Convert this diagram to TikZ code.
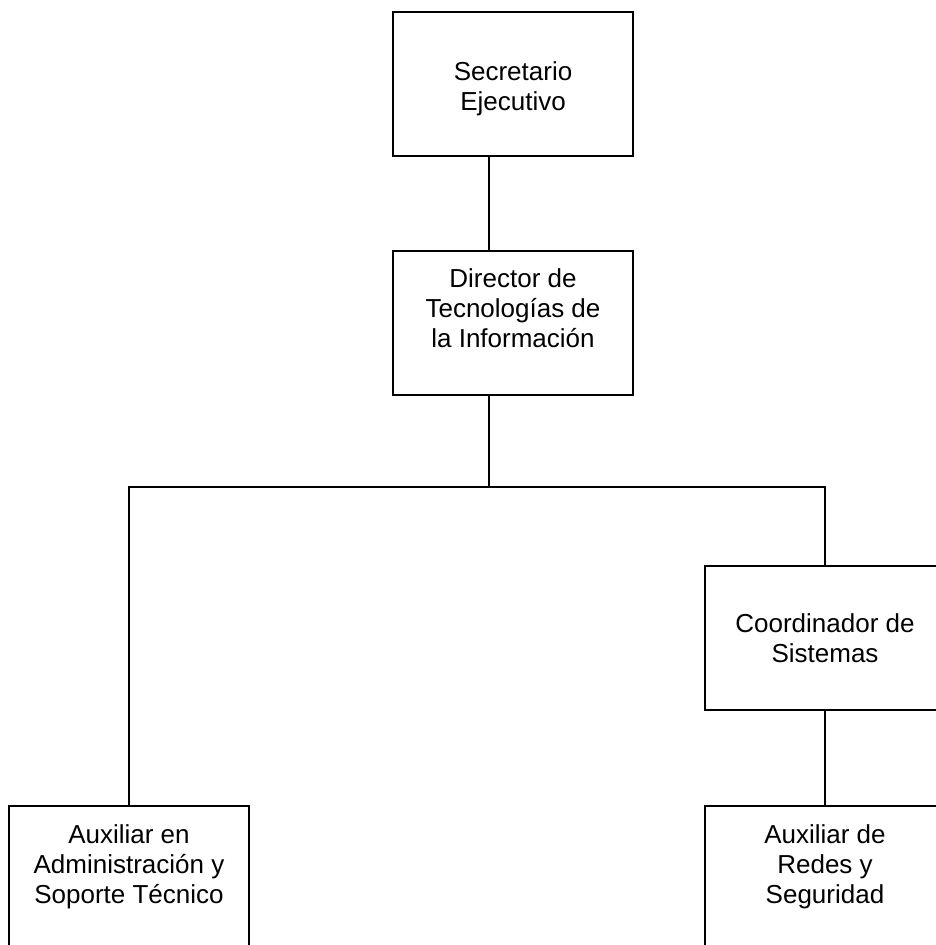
\documentclass[tikz,border=0pt]{standalone}
\usepackage{fontspec}
\setmainfont{Liberation Sans}
\begin{document}
\begin{tikzpicture}[
				x=1pt,y=-1pt,
				puesto/.style={rectangle,draw,line width=1.4pt,minimum width=240pt,minimum height=144pt},
				nombre/.style={anchor=north,align=center,font=\fontsize{26}{30}\selectfont},
				enlace/.style={line width=1.4pt},
				inner sep=0pt]
				\useasboundingbox (0,0) rectangle (935,945);
				\node [puesto]		(sec)		at (513,84)		{};
					\node [nombre] (secT) at (513,61)	{Secretario\\Ejecutivo};
				\node [puesto]		(dir)		at (513,323)		{};
					\node [nombre] (dirT) at (513,268)	{Director de\\Tecnologías de\\la Información};
				\node [puesto]		(coord)		at (825,638)		{};
					\node [nombre] (coordT) at (825,613)	{Coordinador de\\Sistemas};
				\node [puesto]		(auxA)		at (129,878)		{};
					\node [nombre] (auxAT) at (129,824)	{Auxiliar en\\Administración y\\Soporte Técnico};
				\node [puesto]		(auxR)		at (825,878)		{};
					\node [nombre] (auxRT) at (825,824)	{Auxiliar de\\Redes y\\Seguridad};
				% lineas de mando
				\coordinate (junta) at (489,487);
				\draw [enlace] (sec.south -| junta) -- (dir.north -| junta);
				\draw [enlace] (dir.south -| junta) -- (junta);
				\draw [enlace] (auxA.north) |- (junta) -| (coord.north);
				\draw [enlace] (coord) -- (auxR);
			\end{tikzpicture}
\end{document}
